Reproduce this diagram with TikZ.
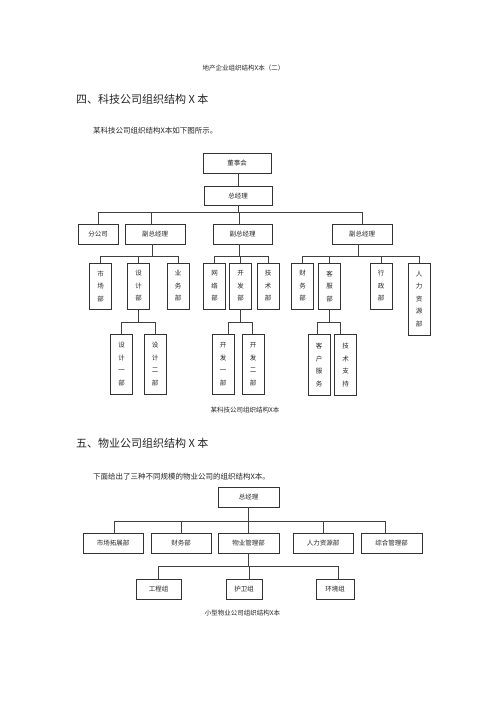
\documentclass[tikz,border=0pt]{standalone}
\usepackage{fontspec}
\newfontfamily\cjk{Noto Sans CJK SC}
\begin{document}
\begin{tikzpicture}[x=1pt,y=-1pt,
  bx/.style={draw=black!80, line width=0.75pt, inner sep=0pt, text=black!85,
    font=\cjk\fontsize{6.5}{12.5}\selectfont, align=center},
  vb/.style={bx, minimum width=22pt},
  hb/.style={bx, minimum height=20pt},
  ln/.style={draw=black!75, line width=0.75pt},
  tx/.style={inner sep=0pt, text=black!85},
  captxt/.style={tx, font=\cjk\fontsize{6.5}{8}\selectfont},
  headtxt/.style={tx, anchor=west, font=\cjk\fontsize{11}{13}\selectfont},
  paratxt/.style={tx, anchor=west, font=\cjk\fontsize{7.5}{9}\selectfont}]
\useasboundingbox[fill=white] (0,0) rectangle (500,707);

% texts
\node[captxt] (hdr) at (243.5,68) {地产企业组织结构X本（二）};
\node[headtxt] (h1) at (76,99) {四、科技公司组织结构\ X\ 本};
\node[paratxt] (p1) at (93,131) {某科技公司组织结构X本如下图所示。};
\node[captxt] (cap1) at (245,410) {某科技公司组织结构X本};
\node[headtxt] (h2) at (76,443) {五、物业公司组织结构\ X\ 本};
\node[paratxt] (p2) at (93,477) {下面给出了三种不同规模的物业公司的组织结构X本。};
\node[captxt] (cap2) at (242.5,613) {小型物业公司组织结构X本};

% ---------- chart 1 ----------
\node[hb, minimum width=68pt] (dsh) at (237,163) {董事会};
\node[bx, minimum width=68pt, minimum height=19pt] (zjl) at (238,195.5) {总经理};
\node[hb, minimum width=40pt] (fgs) at (98,234) {分公司};
\node[hb, minimum width=60pt] (fz1) at (155,234) {副总经理};
\node[hb, minimum width=59pt] (fz2) at (242.5,234) {副总经理};
\node[hb, minimum width=60pt] (fz3) at (362,234) {副总经理};

\node[vb, minimum height=46pt] (scb) at (100.5,286) {市\\场\\部};
\node[vb, minimum height=46pt] (sjb) at (138.5,286) {设\\计\\部};
\node[vb, minimum height=46pt] (ywb) at (178,286) {业\\务\\部};
\node[vb, minimum height=46pt] (wlb) at (214.5,286) {网\\络\\部};
\node[vb, minimum height=46pt] (kfb) at (240.5,286) {开\\发\\部};
\node[vb, minimum height=46pt] (jsb) at (268,286) {技\\术\\部};
\node[vb, minimum height=46pt] (cwb) at (302.5,286) {财\\务\\部};
\node[vb, minimum height=46pt] (kfu) at (329.5,286) {客\\服\\部};
\node[vb, minimum height=46pt] (xzb) at (381,286) {行\\政\\部};
\node[vb, minimum height=72pt] (rlb) at (419,299) {人\\力\\资\\源\\部};

\node[vb, minimum height=60pt] (sj1) at (121.5,364) {设\\计\\一\\部};
\node[vb, minimum height=60pt] (sj2) at (155,364) {设\\计\\二\\部};
\node[vb, minimum height=60pt] (kf1) at (223,364) {开\\发\\一\\部};
\node[vb, minimum height=60pt] (kf2) at (253,364) {开\\发\\二\\部};
\node[vb, minimum height=61pt] (khfw) at (319,365) {客\\户\\服\\务};
\node[vb, minimum height=61pt] (jszc) at (345.5,365) {技\\术\\支\\持};

\coordinate (b1) at (0,212);
\coordinate (b2) at (0,256);
\coordinate (b3) at (0,322);

\draw[ln] (dsh.south -| zjl.north) -- (zjl.north);
\draw[ln] (zjl.south) -- (zjl.south |- b1);
\draw[ln] (fgs.north) -- (fgs.north |- b1) -- (fz3.north |- b1) -- (fz3.north);
\draw[ln] ([xshift=-4pt]fz1.north) -- ([xshift=-4pt]fz1.north |- b1);
\draw[ln] ([xshift=-3.5pt]fz2.north) -- ([xshift=-3.5pt]fz2.north |- b1);

\draw[ln] ([xshift=-3pt]fz1.south) -- ([xshift=-3pt]fz1.south |- b2);
\draw[ln] (scb.north) -- (scb.north |- b2) -- (ywb.north |- b2) -- (ywb.north);
\draw[ln] (sjb.north) -- (sjb.north |- b2);

\draw[ln] ([xshift=-3.5pt]fz2.south) -- ([xshift=-3.5pt]fz2.south |- b2);
\draw[ln] (wlb.north) -- (wlb.north |- b2) -- (jsb.north |- b2) -- (jsb.north);
\draw[ln] (kfb.north) -- (kfb.north |- b2);

\draw[ln] ([xshift=-4pt]fz3.south) -- ([xshift=-4pt]fz3.south |- b2);
\draw[ln] (cwb.north) -- (cwb.north |- b2) -- (rlb.north |- b2) -- (rlb.north);
\draw[ln] (kfu.north) -- (kfu.north |- b2);
\draw[ln] (xzb.north) -- (xzb.north |- b2);

\draw[ln] (sjb.south) -- (sjb.south |- b3);
\draw[ln] (sj1.north) -- (sj1.north |- b3) -- (sj2.north |- b3) -- (sj2.north);

\draw[ln] (kfb.south) -- (kfb.south |- b3);
\draw[ln] ([xshift=5pt]kf1.north) -- ([xshift=5pt]kf1.north |- b3) -- ([xshift=-1pt]kf2.north |- b3) -- ([xshift=-1pt]kf2.north);

\draw[ln] (kfu.south) -- (kfu.south |- b3);
\draw[ln] ([xshift=-2pt]khfw.north) -- ([xshift=-2pt]khfw.north |- b3) -- ([xshift=-5.5pt]jszc.north |- b3) -- ([xshift=-5.5pt]jszc.north);

% ---------- chart 2 ----------
\node[hb, minimum width=61pt] (zjl2) at (248.5,497) {总经理};
\node[hb, minimum width=60pt] (sctz) at (113,543) {市场拓展部};
\node[hb, minimum width=60pt] (cw2) at (181,543) {财务部};
\node[hb, minimum width=61pt] (wygl) at (248.5,543) {物业管理部};
\node[hb, minimum width=60pt] (rlzy) at (323,543) {人力资源部};
\node[hb, minimum width=61pt] (zhgl) at (391.5,543) {综合管理部};
\node[hb, minimum width=45pt] (gcz) at (158.5,589) {工程组};
\node[hb, minimum width=36pt] (hwz) at (244,589) {护卫组};
\node[hb, minimum width=38pt] (hjz) at (335,589) {环境组};

\coordinate (c1) at (0,521);
\coordinate (c2) at (0,566);

\draw[ln] (zjl2.south) -- (zjl2.south |- c1);
\draw[ln] ([xshift=1pt]sctz.north) -- ([xshift=1pt]sctz.north |- c1) -- ([xshift=-6.5pt]zhgl.north |- c1) -- ([xshift=-6.5pt]zhgl.north);
\draw[ln] (cw2.north) -- (cw2.north |- c1);
\draw[ln] (wygl.north) -- (wygl.north |- c1);
\draw[ln] (rlzy.north) -- (rlzy.north |- c1);

\draw[ln] (wygl.south) -- (wygl.south |- c2);
\draw[ln] (gcz.north) -- (gcz.north |- c2) -- ([xshift=3pt]hjz.north |- c2) -- ([xshift=3pt]hjz.north);
\draw[ln] ([xshift=5pt]hwz.north) -- ([xshift=5pt]hwz.north |- c2);
\end{tikzpicture}
\end{document}
